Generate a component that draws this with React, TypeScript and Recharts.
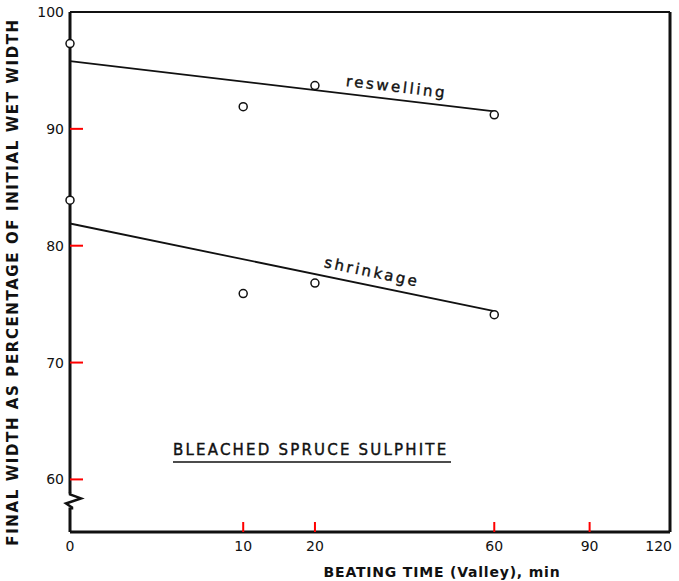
import { ComposedChart, Line, Scatter, XAxis, YAxis, ReferenceLine, ReferenceDot, Customized } from "recharts";

// beating time (min) and measured widths, % of initial wet width
const times = [0, 10, 20, 60];
const reswelling = [97.3, 91.9, 93.7, 91.2];
const shrinkage = [83.9, 75.9, 76.8, 74.1];

// fitted straight lines
const fitTimes = [0, 60];
const reswellingFit = [95.8, 91.5];
const shrinkageFit = [81.9, 74.4];

const xTicks = [0, 10, 20, 60, 90, 120];
const yTicks = [60, 70, 80, 90, 100];

const resPts = times.map((t, i) => ({ t, v: reswelling[i] }));
const shrPts = times.map((t, i) => ({ t, v: shrinkage[i] }));
const resLine = fitTimes.map((t, i) => ({ t, v: reswellingFit[i] }));
const shrLine = fitTimes.map((t, i) => ({ t, v: shrinkageFit[i] }));

const ink = "#111";
const font = "DejaVu Sans";
const yMin = 55.5;

const XTick = (p: any) => {
    const v = p.payload.value;
    return (
        <g>
            {v > 0 && v < 120 && <rect x={p.x - 1} y={p.y - 10} width={2} height={10} fill="red" />}
            <text x={v === 120 ? p.x + 2 : p.x} y={p.y + 19} textAnchor={v === 120 ? "end" : "middle"}
                fontFamily={font} fontSize={14} fill={ink}>{v}</text>
        </g>
    );
};

const YTick = (p: any) => (
    <g>
        {p.payload.value < 100 && <rect x={p.x} y={p.y - 1} width={13} height={2} fill="red" />}
        <text x={p.x - 6} y={p.y + 5} textAnchor="end" fontFamily={font} fontSize={14} fill={ink}>{p.payload.value}</text>
    </g>
);

const Circle = (p: any) => <circle cx={p.cx} cy={p.cy} r={4} fill="#fff" stroke={ink} strokeWidth={1.5} />;

const Break = (p: any) => (
    <g>
        <rect x={p.cx - 4} y={p.cy - 7} width={8} height={14} fill="#fff" />
        <path d={`M${p.cx},${p.cy - 8} L${p.cx},${p.cy - 6} L${p.cx + 11},${p.cy - 2} L${p.cx - 4},${p.cy + 3} L${p.cx + 2},${p.cy + 7} L${p.cx + 2},${p.cy + 9}`}
            fill="none" stroke={ink} strokeWidth={2.5} strokeLinejoin="miter" />
    </g>
);

const Notes = () => (
    <g fill={ink} fontFamily={font}>
        <text x={18} y={282} transform="rotate(-90 18 282)" textAnchor="middle" fontSize={15} fontWeight="bold" letterSpacing={1.6}>
            FINAL WIDTH AS PERCENTAGE OF INITIAL WET WIDTH
        </text>
        <text x={442} y={577} textAnchor="middle" fontSize={14} fontWeight="bold" letterSpacing={0.8}>BEATING TIME (Valley), min</text>
        <text x={396} y={92} transform="rotate(6.8 396 92)" textAnchor="middle" fontSize={15} letterSpacing={2.6}
            stroke={ink} strokeWidth={0.4}>reswelling</text>
        <text x={371} y={277} transform="rotate(11.9 371 277)" textAnchor="middle" fontSize={15} letterSpacing={2.6}
            stroke={ink} strokeWidth={0.4}>shrinkage</text>
        <text x={173} y={455} fontSize={15} letterSpacing={2.2} stroke={ink} strokeWidth={0.4}>BLEACHED SPRUCE SULPHITE</text>
        <line x1={173} x2={451} y1={462} y2={462} stroke={ink} strokeWidth={1.5} />
    </g>
);

export default function App() {
    return (
        <div style={{ position: "absolute", left: 0, top: 0, background: "#fff" }}>
            <ComposedChart width={679} height={581} margin={{ top: 12, right: 9, bottom: 0, left: 0 }}>
                <XAxis type="number" dataKey="t" scale="sqrt" domain={[0, 120]} ticks={xTicks} height={49}
                    tickSize={0} tickMargin={0} tickLine={false} tick={XTick}
                    axisLine={{ stroke: ink, strokeWidth: 3 }} interval={0} />
                <YAxis type="number" dataKey="v" domain={[yMin, 100]} ticks={yTicks} width={70}
                    tickSize={0} tickMargin={0} tickLine={false} tick={YTick}
                    axisLine={{ stroke: ink, strokeWidth: 3 }} interval={0} allowDataOverflow />
                <ReferenceLine y={100} stroke={ink} strokeWidth={2} />
                <ReferenceLine x={120} stroke={ink} strokeWidth={3} />
                <Line data={resLine} dataKey="v" stroke={ink} strokeWidth={1.8} dot={false} isAnimationActive={false} />
                <Line data={shrLine} dataKey="v" stroke={ink} strokeWidth={1.8} dot={false} isAnimationActive={false} />
                <Scatter data={resPts} dataKey="v" shape={Circle} isAnimationActive={false} />
                <Scatter data={shrPts} dataKey="v" shape={Circle} isAnimationActive={false} />
                <ReferenceDot x={0} y={58.2} shape={Break} ifOverflow="visible" />
                <Customized component={Notes} />
            </ComposedChart>
        </div>
    );
}
